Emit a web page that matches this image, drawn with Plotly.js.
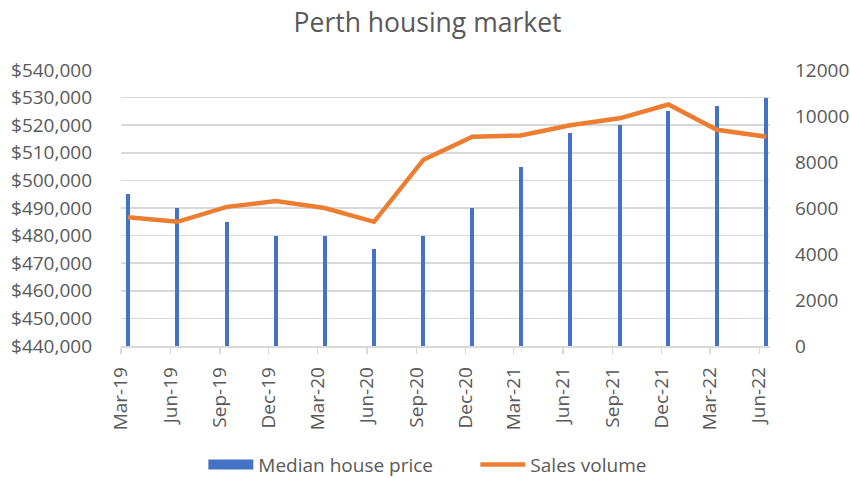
<!DOCTYPE html>
<html>
<head>
<meta charset="utf-8">
<script src="https://cdn.plot.ly/plotly-3.0.1.min.js"></script>
<style>html,body{margin:0;padding:0;background:#fff;} #chart{width:850px;height:478px;}</style>
</head>
<body>
<div id="chart"></div>
<script>
const dates = ["2019-03-14","2019-06-14","2019-09-14","2019-12-14","2020-03-14","2020-06-14","2020-09-14","2020-12-14","2021-03-14","2021-06-14","2021-09-14","2021-12-14","2022-03-14","2022-06-14"];
const medianPrice = [495000,490000,485000,480000,480000,475000,480000,490000,505000,517000,520000,525000,527000,530000];
const salesVolume = [5600,5400,6050,6300,6000,5400,8100,9100,9150,9600,9900,10500,9400,9100];

const font = "'Open Sans', sans-serif";
const grey = "#595959";
const blue = "#4472C4";
const orange = "#ED7D31";

const traces = [
  {
    type: "bar", name: "Median house price", x: dates, y: medianPrice,
    marker: {color: blue}, width: 7.5*86400000, yaxis: "y", showlegend: false
  },
  {
    type: "scatter", mode: "lines", name: "Median house price", x: [null], y: [null],
    line: {color: blue, width: 13}, yaxis: "y", showlegend: true, hoverinfo: "skip"
  },
  {
    type: "scatter", mode: "lines", name: "Sales volume", x: dates, y: salesVolume,
    line: {color: orange, width: 4.5}, yaxis: "y2"
  }
];

const layout = {
  width: 850, height: 478,
  margin: {l: 121, r: 80, t: 70, b: 132, autoexpand: false},
  paper_bgcolor: "#fff", plot_bgcolor: "#fff",
  title: {text: "Perth housing market", font: {family: font, size: 26.5, color: grey}, x: 0.503, xanchor: "center", y: 0.952, yanchor: "middle"},
  font: {family: font, color: grey},
  showlegend: true,
  legend: {orientation: "h", x: 0.546, xanchor: "center", y: -0.43, yanchor: "middle", font: {family: font, size: 19, color: grey}, traceorder: "normal", itemwidth: 45, entrywidth: 212, entrywidthmode: "pixels"},
  bargap: 0,
  xaxis: {
    type: "date", range: ["2019-03-01", "2022-06-21"], automargin: false,
    tick0: "2019-03-01", dtick: "M3", tickformat: "%b-%y",
    tickangle: -90, tickfont: {family: font, size: 19, color: grey},
    showgrid: false, showline: true, linecolor: "#D9D9D9", linewidth: 1.5,
    ticks: "outside", ticklen: 6, tickcolor: "#D9D9D9", tickwidth: 1.5, zeroline: false,
    ticklabelstandoff: 6
  },
  yaxis: {
    range: [440000, 540000], dtick: 10000, tickprefix: "$", tickformat: ",d", automargin: false,
    tickfont: {family: font, size: 19, color: grey}, ticklabelstandoff: 28,
    showgrid: true, gridcolor: "#D9D9D9", gridwidth: 1.5, zeroline: false, showline: false
  },
  yaxis2: {
    range: [0, 12000], dtick: 2000, overlaying: "y", side: "right", tickformat: "d", automargin: false,
    tickfont: {family: font, size: 19, color: grey}, ticklabelstandoff: 24,
    showgrid: false, zeroline: false, showline: false
  }
};

Plotly.newPlot("chart", traces, layout, {displayModeBar: false, staticPlot: true});
</script>
</body>
</html>
